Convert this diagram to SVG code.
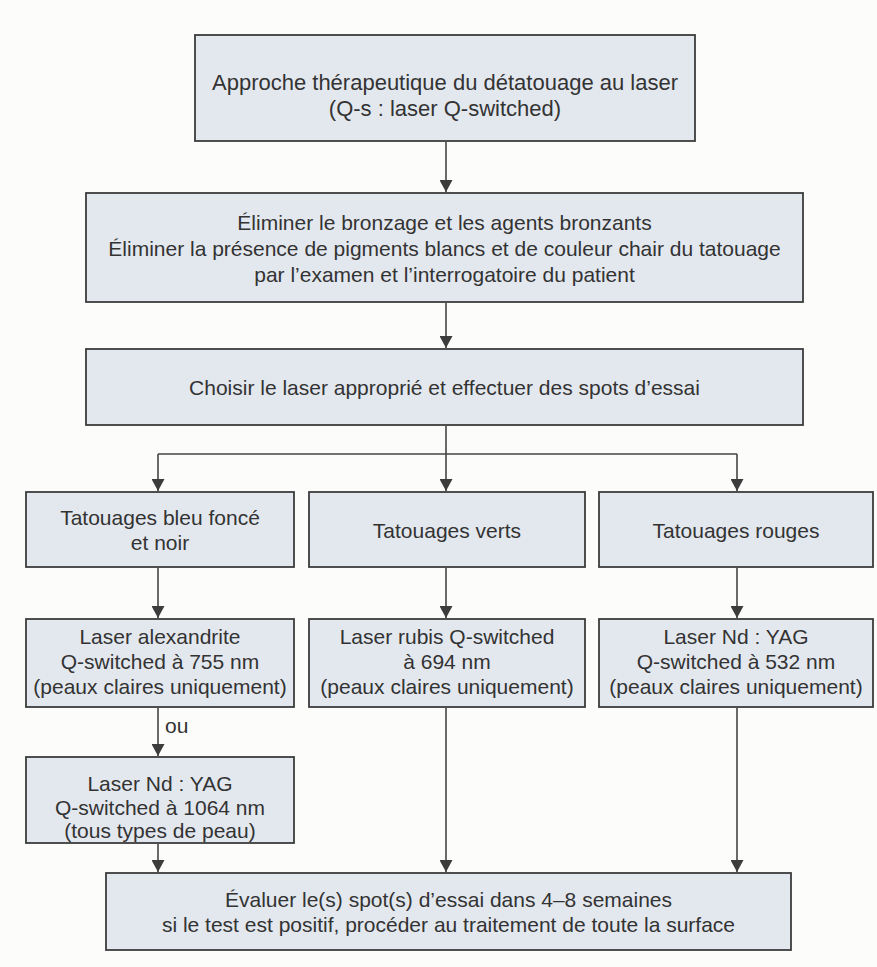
<svg xmlns="http://www.w3.org/2000/svg" width="877" height="967" viewBox="0 0 877 967">
<style>
.box{fill:#e3e8ef;stroke:#3c3c3c;stroke-width:1.8}
.t{font-family:"Liberation Sans",Arial,sans-serif;font-size:21px;fill:#333333;text-anchor:middle}
.t1{font-size:22px}
.c{fill:none;stroke:#444;stroke-width:1.6}
</style>
<defs>
<marker id="ah" markerUnits="userSpaceOnUse" markerWidth="13" markerHeight="13" refX="12" refY="6.5" orient="auto">
<path d="M0,0 L12,6.5 L0,13 z" fill="#3c3c3c"/>
</marker>
</defs>
<rect x="0" y="0" width="877" height="967" fill="#fcfcfb"/>
<g id="connectors">
<line class="c" x1="446" y1="142" x2="446" y2="192" marker-end="url(#ah)"/>
<line class="c" x1="446" y1="303" x2="446" y2="348" marker-end="url(#ah)"/>
<line class="c" x1="446" y1="426" x2="446" y2="454"/>
<line class="c" x1="158" y1="454" x2="737" y2="454"/>
<line class="c" x1="158" y1="454" x2="158" y2="491" marker-end="url(#ah)"/>
<line class="c" x1="446" y1="454" x2="446" y2="491" marker-end="url(#ah)"/>
<line class="c" x1="737" y1="454" x2="737" y2="491" marker-end="url(#ah)"/>
<line class="c" x1="158" y1="568" x2="158" y2="618" marker-end="url(#ah)"/>
<line class="c" x1="446" y1="568" x2="446" y2="618" marker-end="url(#ah)"/>
<line class="c" x1="737" y1="568" x2="737" y2="618" marker-end="url(#ah)"/>
<line class="c" x1="158" y1="708" x2="158" y2="756" marker-end="url(#ah)"/>
<text class="t" x="165" y="733" style="text-anchor:start">ou</text>
<line class="c" x1="158" y1="844" x2="158" y2="872" marker-end="url(#ah)"/>
<line class="c" x1="446" y1="708" x2="446" y2="872" marker-end="url(#ah)"/>
<line class="c" x1="737" y1="708" x2="737" y2="872" marker-end="url(#ah)"/>
</g>
<g id="n1">
<rect class="box" x="195" y="35" width="500" height="106"/>
<text class="t t1" x="445" y="90">Approche thérapeutique du détatouage au laser</text>
<text class="t t1" x="445" y="116">(Q-s : laser Q-switched)</text>
</g>
<g id="n2">
<rect class="box" x="86" y="193" width="717" height="109"/>
<text class="t" x="444.5" y="230">Éliminer le bronzage et les agents bronzants</text>
<text class="t" x="444.5" y="256">Éliminer la présence de pigments blancs et de couleur chair du tatouage</text>
<text class="t" x="444.5" y="282">par l’examen et l’interrogatoire du patient</text>
</g>
<g id="n3">
<rect class="box" x="86" y="349" width="717" height="76"/>
<text class="t" x="444.5" y="395">Choisir le laser approprié et effectuer des spots d’essai</text>
</g>
<g id="n4">
<rect class="box" x="26" y="492" width="268" height="75"/>
<text class="t" x="160" y="525">Tatouages bleu foncé</text>
<text class="t" x="160" y="550">et noir</text>
</g>
<g id="n5">
<rect class="box" x="309" y="492" width="276" height="75"/>
<text class="t" x="447" y="538">Tatouages verts</text>
</g>
<g id="n6">
<rect class="box" x="599" y="492" width="274" height="75"/>
<text class="t" x="736" y="538">Tatouages rouges</text>
</g>
<g id="n7">
<rect class="box" x="26" y="619" width="268" height="88"/>
<text class="t" x="160" y="644">Laser alexandrite</text>
<text class="t" x="160" y="669">Q-switched à 755 nm</text>
<text class="t" x="160" y="694">(peaux claires uniquement)</text>
</g>
<g id="n8">
<rect class="box" x="309" y="619" width="276" height="88"/>
<text class="t" x="447" y="644">Laser rubis Q-switched</text>
<text class="t" x="447" y="669">à 694 nm</text>
<text class="t" x="447" y="694">(peaux claires uniquement)</text>
</g>
<g id="n9">
<rect class="box" x="599" y="619" width="274" height="88"/>
<text class="t" x="736" y="644">Laser Nd : YAG</text>
<text class="t" x="736" y="669">Q-switched à 532 nm</text>
<text class="t" x="736" y="694">(peaux claires uniquement)</text>
</g>
<g id="n10">
<rect class="box" x="26" y="757" width="268" height="86"/>
<text class="t" x="160" y="791">Laser Nd : YAG</text>
<text class="t" x="160" y="815">Q-switched à 1064 nm</text>
<text class="t" x="160" y="838">(tous types de peau)</text>
</g>
<g id="n11">
<rect class="box" x="106" y="873" width="685" height="77"/>
<text class="t" x="448.5" y="907">Évaluer le(s) spot(s) d’essai dans 4–8 semaines</text>
<text class="t" x="448.5" y="932">si le test est positif, procéder au traitement de toute la surface</text>
</g>
</svg>
